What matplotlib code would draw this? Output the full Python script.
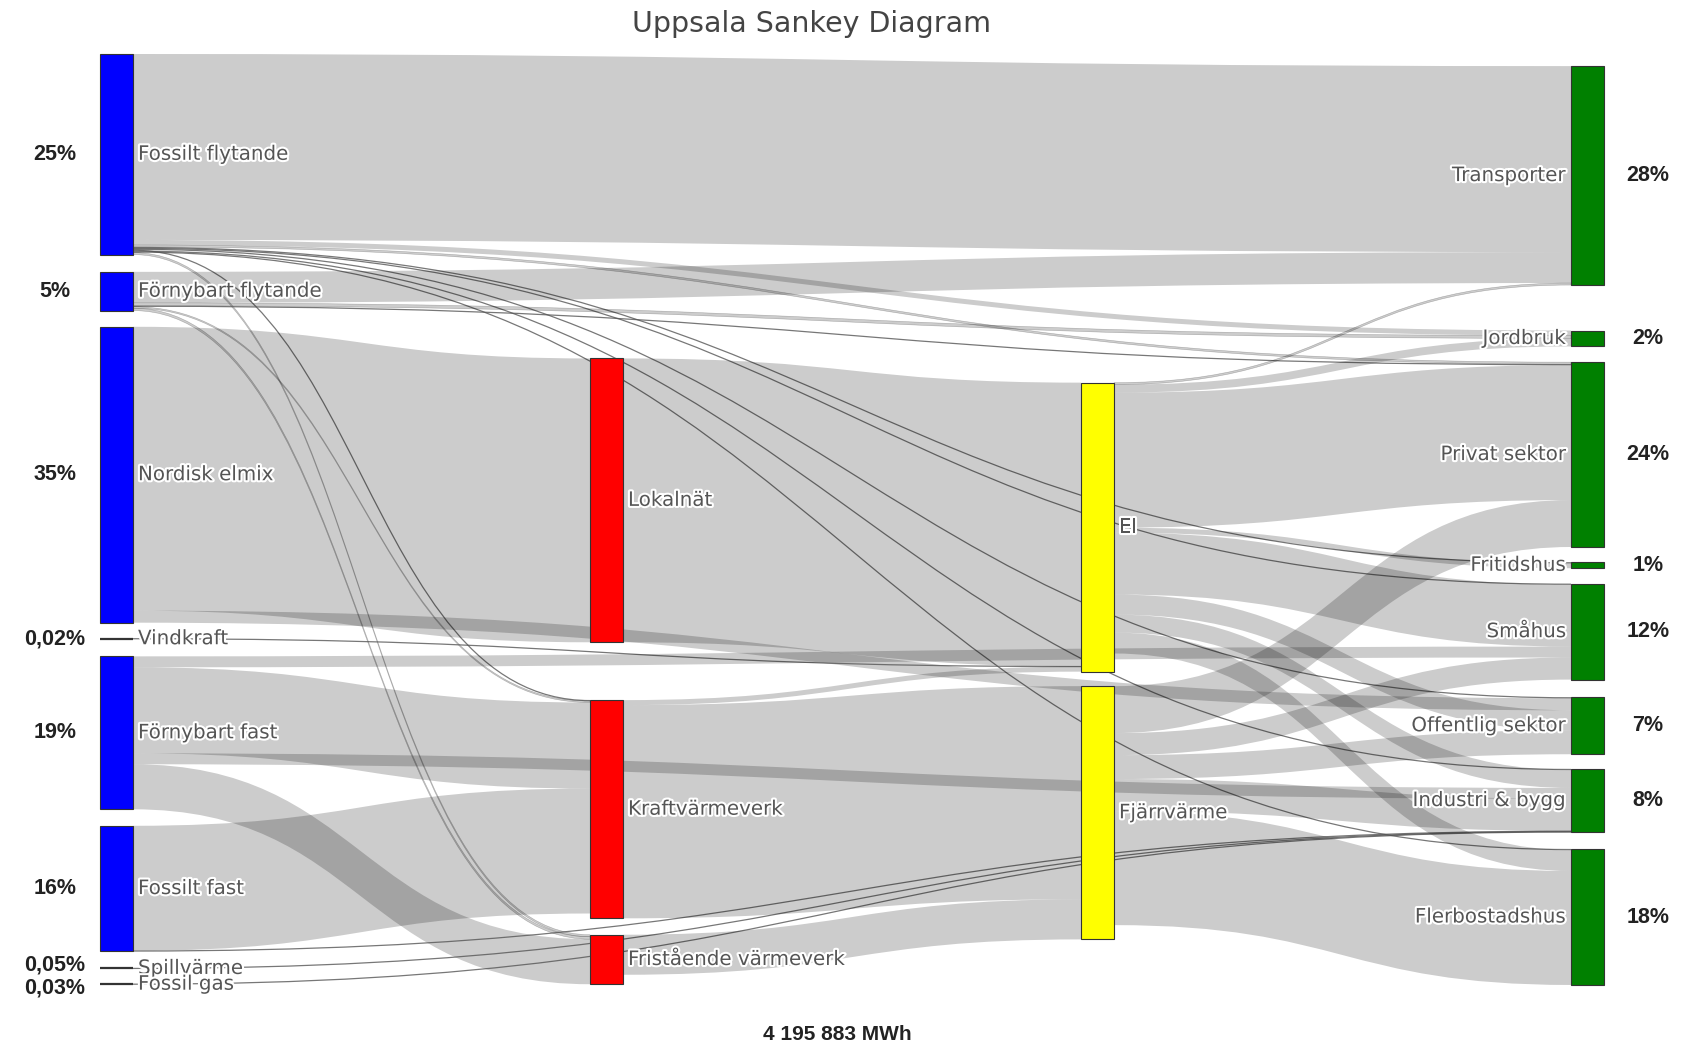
import matplotlib
matplotlib.use("Agg")
import matplotlib.pyplot as plt
from matplotlib.path import Path
from matplotlib.patches import PathPatch, Rectangle
import matplotlib.patheffects as pe

# ---------------- data ----------------
title = "Uppsala Sankey Diagram"
total_text = "4 195 883 MWh"

supply = ["Fossilt flytande", "Förnybart flytande", "Nordisk elmix", "Vindkraft",
          "Förnybart fast", "Fossilt fast", "Spillvärme", "Fossil gas"]
conversion = ["Lokalnät", "Kraftvärmeverk", "Fristående värmeverk"]
carriers = ["El", "Fjärrvärme"]
use = ["Transporter", "Jordbruk", "Privat sektor", "Fritidshus", "Småhus",
       "Offentlig sektor", "Industri & bygg", "Flerbostadshus"]

supply_pct = ["25%", "5%", "35%", "0,02%", "19%", "16%", "0,05%", "0,03%"]
use_pct = ["28%", "2%", "24%", "1%", "12%", "7%", "8%", "18%"]

# flows in GWh
link_source = [
    "Fossilt flytande", "Fossilt flytande", "Fossilt flytande", "Fossilt flytande",
    "Fossilt flytande", "Fossilt flytande", "Fossilt flytande", "Fossilt flytande",
    "Fossilt flytande", "Fossilt flytande",
    "Förnybart flytande", "Förnybart flytande", "Förnybart flytande",
    "Förnybart flytande", "Förnybart flytande",
    "Nordisk elmix", "Nordisk elmix",
    "Vindkraft",
    "Förnybart fast", "Förnybart fast", "Förnybart fast", "Förnybart fast",
    "Fossilt fast", "Fossilt fast",
    "Spillvärme", "Fossil gas",
    "Lokalnät",
    "Kraftvärmeverk", "Kraftvärmeverk",
    "Fristående värmeverk",
    "El", "El", "El", "El", "El", "El", "El", "El",
    "Fjärrvärme", "Fjärrvärme", "Fjärrvärme", "Fjärrvärme", "Fjärrvärme",
]
link_target = [
    "Transporter", "Jordbruk", "Privat sektor", "Fritidshus",
    "Småhus", "Offentlig sektor", "Kraftvärmeverk", "Industri & bygg",
    "Flerbostadshus", "Fristående värmeverk",
    "Transporter", "Jordbruk", "Privat sektor",
    "Kraftvärmeverk", "Fristående värmeverk",
    "Lokalnät", "Offentlig sektor",
    "El",
    "Småhus", "Kraftvärmeverk", "Industri & bygg", "Fristående värmeverk",
    "Kraftvärmeverk", "Industri & bygg",
    "Industri & bygg", "Industri & bygg",
    "El",
    "El", "Fjärrvärme",
    "Fjärrvärme",
    "Transporter", "Jordbruk", "Privat sektor", "Fritidshus", "Småhus",
    "Offentlig sektor", "Industri & bygg", "Flerbostadshus",
    "Privat sektor", "Småhus", "Offentlig sektor", "Industri & bygg", "Flerbostadshus",
]
link_gwh = [
    1003, 27, 11, 5, 5, 5, 5, 5, 5, 11,
    167, 16, 5, 8, 13,
    1531, 65,
    0.8,
    59, 464, 59, 243,
    674, 3,
    2.1, 1.3,
    1531,
    27, 1150,
    216,
    11, 43, 728, 27, 334, 108, 97, 113,
    253, 119, 129, 173, 615,
]

# ---------------- layout / style ----------------
W_PX, H_PX = 1686, 1048
PX_PER_GWH = 0.1854
COL_LEFT = [100, 590, 1081, 1571]
NODE_W = 33
PAD_TOP, PAD_BOTTOM = 54, 985
# vertical placement of nodes (fraction of the plot height, top edge)
NODE_YFRAC = {
    "Fossilt flytande": 0.000, "Förnybart flytande": 0.234, "Nordisk elmix": 0.293,
    "Vindkraft": 0.628, "Förnybart fast": 0.647, "Fossilt fast": 0.829,
    "Spillvärme": 0.982, "Fossil gas": 0.999,
    "Lokalnät": 0.327, "Kraftvärmeverk": 0.694, "Fristående värmeverk": 0.946,
    "El": 0.353, "Fjärrvärme": 0.679,
    "Transporter": 0.013, "Jordbruk": 0.297, "Privat sektor": 0.331,
    "Fritidshus": 0.546, "Småhus": 0.569, "Offentlig sektor": 0.691,
    "Industri & bygg": 0.768, "Flerbostadshus": 0.854,
}
PCT_DY = {"Spillvärme": -3, "Fossil gas": 4}
COL_COLORS = ["#0000ff", "#ff0000", "#ffff00", "#008000"]
LINK_RGBA = (0, 0, 0, 0.2)
LABEL_COLOR = "#555555"

columns = [supply, conversion, carriers, use]
col_of = {n: c for c, names in enumerate(columns) for n in names}

# node sizes = max(inflow, outflow)
inflow = {n: 0.0 for n in col_of}
outflow = {n: 0.0 for n in col_of}
for s, t, v in zip(link_source, link_target, link_gwh):
    outflow[s] += v
    inflow[t] += v
node_h = {n: max(inflow[n], outflow[n]) * PX_PER_GWH for n in col_of}
node_top = {n: PAD_TOP + NODE_YFRAC[n] * (PAD_BOTTOM - PAD_TOP) for n in col_of}

links = list(range(len(link_gwh)))
# stacking positions (d3-sankey style: by the other node's vertical position)
src_y, tgt_y = {}, {}
for n in col_of:
    outs = [i for i in links if link_source[i] == n]
    outs.sort(key=lambda i: (node_top[link_target[i]], i))
    y = node_top[n]
    for i in outs:
        src_y[i] = y
        y += link_gwh[i] * PX_PER_GWH
    ins = [i for i in links if link_target[i] == n]
    ins.sort(key=lambda i: (node_top[link_source[i]], i))
    y = node_top[n]
    for i in ins:
        tgt_y[i] = y
        y += link_gwh[i] * PX_PER_GWH

fig = plt.figure(figsize=(W_PX / 100, H_PX / 100), dpi=100)
ax = fig.add_axes([0, 0, 1, 1])
ax.set_xlim(0, W_PX)
ax.set_ylim(H_PX, 0)
ax.axis("off")

for i in links:
    s, t = link_source[i], link_target[i]
    w = link_gwh[i] * PX_PER_GWH
    x0 = COL_LEFT[col_of[s]] + NODE_W
    x1 = COL_LEFT[col_of[t]]
    xm = (x0 + x1) / 2
    y0, y1 = src_y[i], tgt_y[i]
    if w < 1.2:
        yc0, yc1 = y0 + w / 2, y1 + w / 2
        p = Path([(x0, yc0), (xm, yc0), (xm, yc1), (x1, yc1)],
                 [Path.MOVETO, Path.CURVE4, Path.CURVE4, Path.CURVE4])
        ax.add_patch(PathPatch(p, facecolor="none", edgecolor="#555555",
                               lw=0.9, alpha=0.8, zorder=1))
    else:
        verts = [(x0, y0), (xm, y0), (xm, y1), (x1, y1),
                 (x1, y1 + w), (xm, y1 + w), (xm, y0 + w), (x0, y0 + w), (x0, y0)]
        codes = [Path.MOVETO, Path.CURVE4, Path.CURVE4, Path.CURVE4,
                 Path.LINETO, Path.CURVE4, Path.CURVE4, Path.CURVE4, Path.CLOSEPOLY]
        ec = (0, 0, 0, 0.25) if w < 4 else "none"
        ax.add_patch(PathPatch(Path(verts, codes), facecolor=LINK_RGBA,
                               edgecolor=ec, lw=0.4, zorder=1))

halo = [pe.withStroke(linewidth=3, foreground="white")]
for n, c in col_of.items():
    x = COL_LEFT[c]
    y = node_top[n]
    h = node_h[n]
    if h < 1.5:
        ax.plot([x, x + NODE_W], [y + h / 2, y + h / 2], color="#333333",
                lw=1.6, zorder=3, solid_capstyle="butt")
    else:
        ax.add_patch(Rectangle((x, y), NODE_W, h, facecolor=COL_COLORS[c],
                               edgecolor="#333333", lw=0.8, zorder=3))
    yc = y + h / 2
    if c < 3:
        ax.text(x + NODE_W + 5, yc, n, ha="left", va="center", fontsize=14.3,
                color=LABEL_COLOR, family="DejaVu Sans", zorder=4, path_effects=halo)
    else:
        ax.text(x - 5, yc, n, ha="right", va="center", fontsize=14.3,
                color=LABEL_COLOR, family="DejaVu Sans", zorder=4, path_effects=halo)

pct_font = dict(fontsize=15.5, fontweight="bold", color="#222222",
                family="Liberation Sans", va="center", ha="center", zorder=4)
for n, lab in zip(supply, supply_pct):
    ax.text(55, node_top[n] + node_h[n] / 2 + PCT_DY.get(n, 0), lab, **pct_font)
for n, lab in zip(use, use_pct):
    ax.text(1648, node_top[n] + node_h[n] / 2 + PCT_DY.get(n, 0), lab, **pct_font)

ax.text(811, 24, title, ha="center", va="center", fontsize=20.5,
        color="#444444", family="DejaVu Sans")
ax.text(837, 1034, total_text, ha="center", va="center", fontsize=15,
        fontweight="bold", color="#222222", family="Liberation Sans")

fig.savefig("out.png", dpi=100)
